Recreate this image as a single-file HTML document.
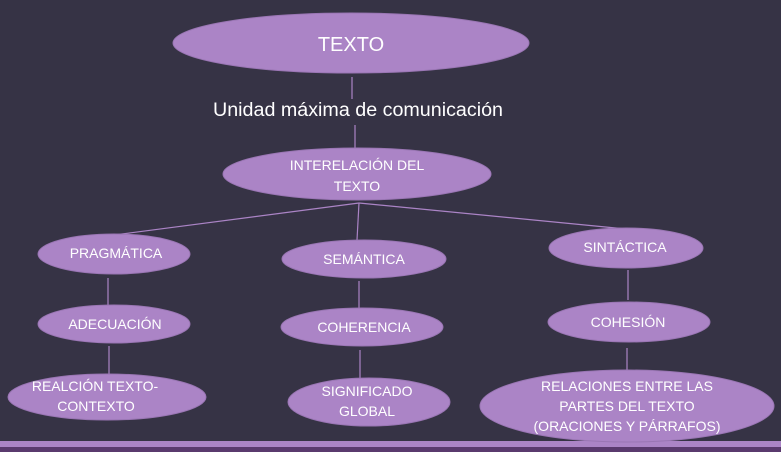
<!DOCTYPE html>
<html><head><meta charset="utf-8"><style>
html,body{margin:0;padding:0;background:#363345;}
</style></head><body>
<svg width="781" height="452" viewBox="0 0 781 452" xmlns="http://www.w3.org/2000/svg" style="display:block">
<rect width="781" height="452" fill="#363345"/>
<rect x="0" y="441" width="781" height="6" fill="#ab84c6"/>
<rect x="0" y="447" width="781" height="5" fill="#5a3a6e"/>
<g stroke="#ab84c6" stroke-width="1.2" fill="none">
<line x1="352" y1="77" x2="352" y2="99"/>
<line x1="355" y1="125" x2="355" y2="148"/>
<line x1="359" y1="203" x2="114" y2="235"/>
<line x1="359" y1="203" x2="357" y2="240"/>
<line x1="359" y1="203" x2="626" y2="229"/>
<line x1="108" y1="278" x2="108" y2="305"/>
<line x1="109" y1="346" x2="109" y2="374"/>
<line x1="359" y1="281" x2="359" y2="308"/>
<line x1="360" y1="350" x2="360" y2="378"/>
<line x1="628" y1="270" x2="628" y2="300"/>
<line x1="627" y1="348" x2="627" y2="370"/>
</g>
<g fill="#ab84c6" stroke="#9a76b4" stroke-width="1">
<ellipse cx="351" cy="43" rx="178" ry="30"/>
<ellipse cx="357" cy="174" rx="134" ry="26"/>
<ellipse cx="114" cy="254" rx="76" ry="20"/>
<ellipse cx="364" cy="259" rx="82" ry="19"/>
<ellipse cx="626" cy="248" rx="77" ry="20"/>
<ellipse cx="114" cy="324" rx="76" ry="19"/>
<ellipse cx="362" cy="327" rx="81" ry="19"/>
<ellipse cx="629" cy="322" rx="81" ry="20"/>
<ellipse cx="107" cy="397" rx="99" ry="23"/>
<ellipse cx="369" cy="402" rx="81" ry="24"/>
<ellipse cx="627" cy="406" rx="147" ry="36"/>
</g>
<g fill="#ffffff" font-family="Liberation Sans, sans-serif" text-anchor="middle" font-size="14">
<text x="351" y="51" font-size="20">TEXTO</text>
<text x="358" y="116" font-size="19.7">Unidad máxima de comunicación</text>
<text x="357" y="170">INTERELACIÓN DEL</text>
<text x="357" y="191">TEXTO</text>
<text x="116" y="258">PRAGMÁTICA</text>
<text x="364" y="264">SEMÁNTICA</text>
<text x="625" y="252">SINTÁCTICA</text>
<text x="115" y="329">ADECUACIÓN</text>
<text x="364" y="332">COHERENCIA</text>
<text x="628" y="327">COHESIÓN</text>
<text x="95" y="391">REALCIÓN TEXTO-</text>
<text x="96" y="411">CONTEXTO</text>
<text x="367" y="396">SIGNIFICADO</text>
<text x="367" y="416">GLOBAL</text>
<text x="627" y="391">RELACIONES ENTRE  LAS</text>
<text x="627" y="411">PARTES DEL TEXTO</text>
<text x="627" y="431">(ORACIONES Y PÁRRAFOS)</text>
</g>
</svg>
</body></html>
